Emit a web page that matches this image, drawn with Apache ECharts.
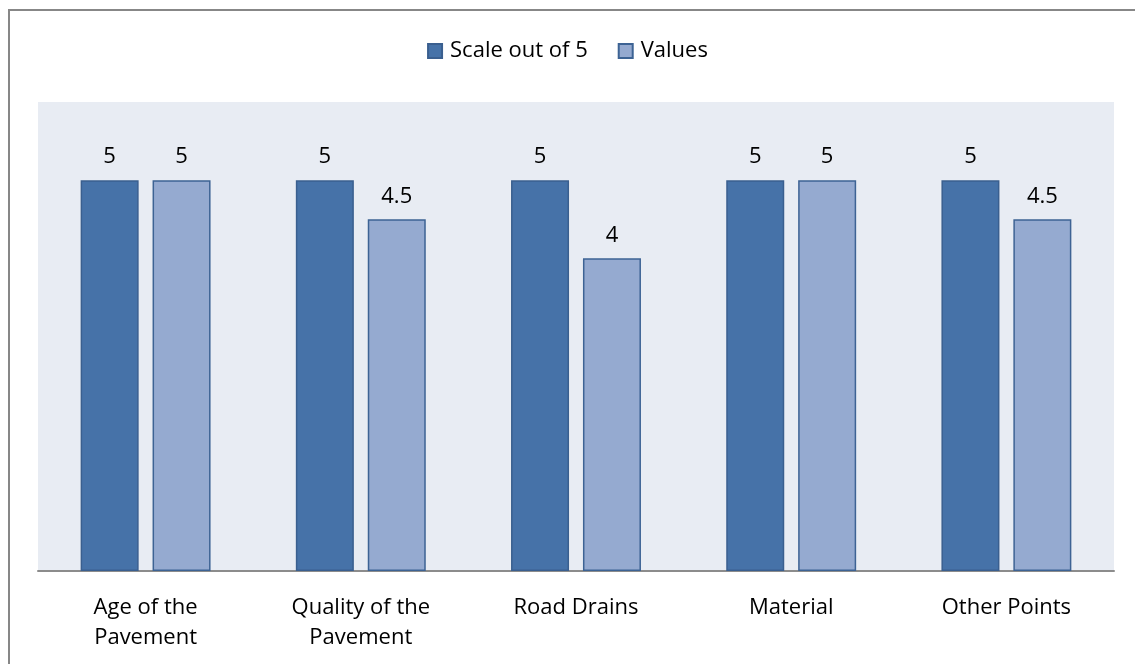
<!DOCTYPE html>
<html><head><meta charset="utf-8">
<script src="https://cdn.jsdelivr.net/npm/echarts@6/dist/echarts.min.js"></script>
<style>html,body{margin:0;padding:0;background:#fff}#c{width:1135px;height:664px}</style>
</head><body><div id="c"></div>
<script>
const categories = ['Age of the\nPavement', 'Quality of the\nPavement', 'Road Drains', 'Material', 'Other Points'];
const seriesNames = ['Scale out of 5', 'Values'];
const scaleValues = [5, 5, 5, 5, 5];
const valueValues = [5, 4.5, 4, 5, 4.5];

const FONT = '"Open Sans", "Noto Sans", sans-serif';
const chart = echarts.init(document.getElementById('c'));
chart.setOption({
  animation: false,
  backgroundColor: '#fff',
  textStyle: { fontFamily: FONT },
  graphic: [{
    type: 'rect', silent: true, z: 100,
    shape: { x: 9, y: 10, width: 1140, height: 700 },
    style: { fill: 'none', stroke: '#878787', lineWidth: 2 }
  }],
  legend: {
    top: 35, left: 'center',
    icon: 'rect',
    itemWidth: 14, itemHeight: 14, itemGap: 30,
    textStyle: { fontFamily: FONT, fontSize: 22, color: '#000', padding: [0, 0, 0, 3] },
    data: seriesNames
  },
  grid: {
    left: 38, right: 21, top: 102, bottom: 93,
    show: true, backgroundColor: '#E8ECF3', borderWidth: 0
  },
  xAxis: {
    type: 'category', data: categories,
    axisLine: { lineStyle: { color: '#8C8C8C', width: 2 } },
    axisTick: { show: false },
    axisLabel: { fontFamily: FONT, fontSize: 22, color: '#000', lineHeight: 30, margin: 22, interval: 0 }
  },
  yAxis: {
    type: 'value', min: 0, max: 6, interval: 1, show: false,
    splitLine: { show: false }
  },
  series: [
    {
      name: seriesNames[0], type: 'bar', data: scaleValues,
      barWidth: 58, barGap: '24%',
      itemStyle: { color: '#4672A8', borderColor: '#3A5F8F', borderWidth: 1.5 },
      label: { show: true, position: 'top', distance: 12, fontFamily: FONT, fontSize: 22, color: '#000' }
    },
    {
      name: seriesNames[1], type: 'bar', data: valueValues,
      barWidth: 58,
      itemStyle: { color: '#95AAD0', borderColor: '#3D6394', borderWidth: 1.5 },
      label: { show: true, position: 'top', distance: 12, fontFamily: FONT, fontSize: 22, color: '#000' }
    }
  ]
});
</script></body></html>
